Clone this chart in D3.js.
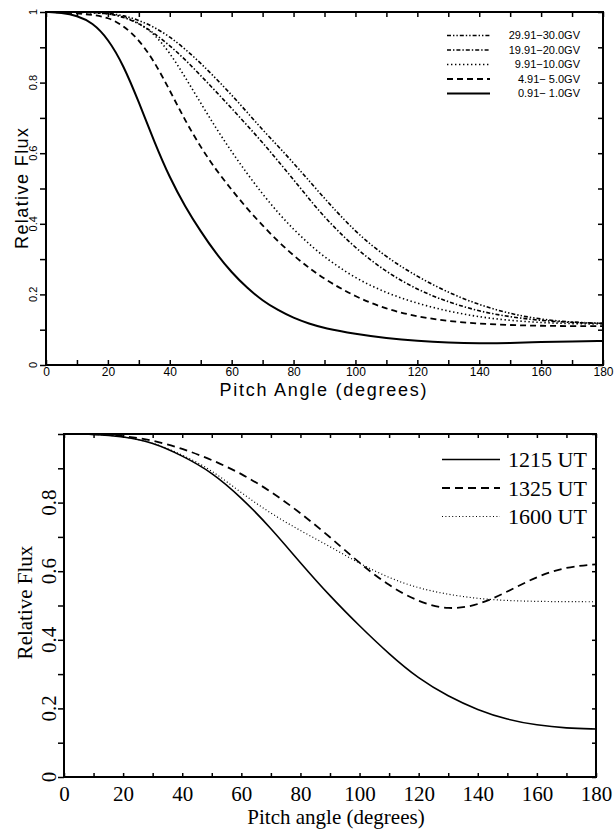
<!DOCTYPE html>
<html>
<head>
<meta charset="utf-8">
<script src="https://cdn.jsdelivr.net/npm/d3@7"></script>
<style>
  body { margin: 0; background: #fff; }
  svg { display: block; }
</style>
</head>
<body>
<svg id="chart" width="614" height="829"></svg>
<script>
// ---- top panel: five rigidity bands ----
const topAngles = [0, 5, 10, 15, 20, 25, 30, 35, 40, 45, 50, 55, 60, 65, 70, 75, 80, 85, 90, 100, 110, 120, 130, 140, 150, 160, 170, 180];
const flux30GV = [1, 1, 1, 0.999, 0.997, 0.99, 0.977, 0.957, 0.93, 0.895, 0.855, 0.811, 0.765, 0.716, 0.666, 0.62, 0.572, 0.522, 0.472, 0.376, 0.305, 0.25, 0.205, 0.17, 0.145, 0.129, 0.121, 0.118];
const flux20GV = [1, 1, 1, 0.999, 0.996, 0.986, 0.968, 0.94, 0.905, 0.865, 0.82, 0.774, 0.727, 0.679, 0.63, 0.578, 0.525, 0.471, 0.418, 0.33, 0.263, 0.213, 0.178, 0.152, 0.136, 0.126, 0.12, 0.118];
const flux10GV = [1, 1, 0.999, 0.998, 0.995, 0.988, 0.97, 0.938, 0.885, 0.815, 0.742, 0.67, 0.604, 0.542, 0.484, 0.431, 0.384, 0.343, 0.305, 0.245, 0.204, 0.174, 0.152, 0.136, 0.126, 0.12, 0.117, 0.116];
const flux5GV = [1, 0.999, 0.996, 0.992, 0.985, 0.962, 0.922, 0.86, 0.778, 0.692, 0.617, 0.552, 0.496, 0.443, 0.395, 0.35, 0.31, 0.275, 0.243, 0.193, 0.158, 0.137, 0.124, 0.117, 0.113, 0.111, 0.11, 0.11];
const flux1GV = [1, 0.998, 0.99, 0.97, 0.925, 0.85, 0.745, 0.632, 0.53, 0.448, 0.378, 0.315, 0.262, 0.218, 0.182, 0.155, 0.133, 0.117, 0.104, 0.088, 0.076, 0.068, 0.063, 0.061, 0.062, 0.065, 0.067, 0.068];
const topLabels = ["29.91\u221230.0GV", "19.91\u221220.0GV", "9.91\u221210.0GV", "4.91\u2212 5.0GV", "0.91\u2212 1.0GV"];

// ---- bottom panel: three times of day ----
const botAngles = [0, 10, 20, 30, 40, 50, 60, 70, 80, 90, 100, 110, 120, 130, 140, 150, 160, 170, 180];
const flux1215 = [1, 1, 0.993, 0.976, 0.937, 0.889, 0.815, 0.726, 0.624, 0.527, 0.44, 0.358, 0.286, 0.235, 0.195, 0.167, 0.151, 0.142, 0.14];
const flux1325 = [1, 1, 0.995, 0.982, 0.958, 0.925, 0.885, 0.833, 0.77, 0.7, 0.623, 0.557, 0.51, 0.487, 0.5, 0.54, 0.585, 0.613, 0.62];
const flux1600 = [1, 1, 0.993, 0.976, 0.94, 0.895, 0.828, 0.768, 0.718, 0.672, 0.622, 0.58, 0.55, 0.532, 0.52, 0.514, 0.512, 0.511, 0.511];
const botLabels = ["1215 UT", "1325 UT", "1600 UT"];

const svg = d3.select("#chart");
const SANS = "'Liberation Sans', Arial, sans-serif";
const SERIF = "'Liberation Serif', 'Times New Roman', serif";

function drawPanel(o) {
    const x = d3.scaleLinear().domain([0, 180]).range([o.left, o.right]);
    const y = d3.scaleLinear().domain([0, 1]).range([o.bottom, o.top]);
    const g = svg.append("g").style("font-family", o.font);

    const xTicks = d3.range(0, 181, 10);
    const yTicks = d3.range(0, 11).map(d => d / 10);

    const tidy = a => {
        a.select(".domain").remove();
        a.selectAll("line").attr("stroke-width", o.tickWidth);
    };

    g.append("g").attr("transform", `translate(0,${o.bottom})`)
        .call(d3.axisBottom(x).tickValues(xTicks).tickSize(-o.tickIn).tickFormat(d => d % 20 ? "" : d))
        .call(tidy)
        .call(a => a.selectAll("text")
            .attr("dy", null).attr("y", o.xTickY)
            .attr("fill", "#000")
            .style("font-size", o.xTickSize + "px")
            .style("font-family", o.font));

    g.append("g").attr("transform", `translate(0,${o.top})`)
        .call(d3.axisTop(x).tickValues(xTicks).tickSize(-o.tickIn).tickFormat(""))
        .call(tidy);

    g.append("g").attr("transform", `translate(${o.left},0)`)
        .call(d3.axisLeft(y).tickValues(yTicks).tickSize(o.tickOut).tickFormat(""))
        .call(tidy);

    g.append("g").attr("transform", `translate(${o.right},0)`)
        .call(d3.axisRight(y).tickValues(yTicks).tickSize(-o.tickIn).tickFormat(""))
        .call(tidy);

    // rotated y tick labels
    g.append("g").selectAll("text")
        .data(o.yLabels)
        .join("text")
        .attr("transform", d => `translate(${o.yTickX},${y(d)}) rotate(-90)`)
        .attr("text-anchor", "middle")
        .attr("dy", "0.35em")
        .style("font-size", o.yTickSize + "px")
        .text(d3.format("~g"));

    g.append("rect")
        .attr("x", o.left).attr("y", o.top)
        .attr("width", o.right - o.left).attr("height", o.bottom - o.top)
        .attr("fill", "none").attr("stroke", "#000").attr("stroke-width", o.frameWidth);

    // axis titles
    const xt = g.append("text")
        .attr("x", o.xTitleX).attr("y", o.xTitleY)
        .attr("text-anchor", "middle")
        .style("font-size", o.titleSize + "px")
        .text(o.xTitle);
    if (o.xTitleLen) xt.attr("textLength", o.xTitleLen).attr("lengthAdjust", "spacing");

    const yt = g.append("text")
        .attr("transform", `translate(${o.yTitleX},${(o.top + o.bottom) / 2 + o.yTitleShift}) rotate(-90)`)
        .attr("text-anchor", "middle")
        .style("font-size", o.titleSize + "px")
        .text("Relative Flux");
    if (o.yTitleLen) yt.attr("textLength", o.yTitleLen).attr("lengthAdjust", "spacing");

    const line = d3.line()
        .x(d => x(d[0]))
        .y(d => y(d[1]))
        .curve(d3.curveBasis);

    g.append("g").selectAll("path")
        .data(o.series)
        .join("path")
        .attr("d", s => line(d3.zip(o.angles, s.values)))
        .attr("fill", "none")
        .attr("stroke", "#000")
        .attr("stroke-width", s => s.width)
        .attr("stroke-dasharray", s => s.dash);

    // legend
    const leg = g.append("g").selectAll("g")
        .data(o.legend)
        .join("g")
        .attr("transform", (s, i) => `translate(0,${o.legY + i * o.legStep})`);
    leg.append("line")
        .attr("x1", o.legX1).attr("x2", o.legX2)
        .attr("stroke", "#000")
        .attr("stroke-width", s => s.width)
        .attr("stroke-dasharray", s => s.dash);
    leg.append("text")
        .attr("x", o.legTextX)
        .attr("dy", "0.35em")
        .attr("text-anchor", o.legAnchor)
        .style("font-size", o.legSize + "px")
        .style("white-space", "pre")
        .text(s => s.label);
}

const topSeries = [
    { label: topLabels[0], values: flux30GV, width: 1.6, dash: "4,2,1.4,2,1.4,2" },
    { label: topLabels[1], values: flux20GV, width: 1.6, dash: "4,2,1.4,2" },
    { label: topLabels[2], values: flux10GV, width: 1.6, dash: "1.4,2.6" },
    { label: topLabels[3], values: flux5GV, width: 1.8, dash: "6,4" },
    { label: topLabels[4], values: flux1GV, width: 2, dash: null }
];

drawPanel({
    left: 46, right: 603, top: 12, bottom: 365,
    font: SANS,
    angles: topAngles,
    series: topSeries,
    legend: topSeries,
    tickIn: 5, tickOut: 6, tickWidth: 1.5, frameWidth: 2,
    xTickY: 11, xTickSize: 12,
    yTickX: 33, yTickSize: 11,
    yLabels: [0, 0.2, 0.4, 0.6, 0.8, 1],
    titleSize: 18,
    xTitle: "Pitch Angle (degrees)", xTitleX: 323, xTitleY: 396, xTitleLen: 207,
    yTitleX: 28, yTitleShift: 0, yTitleLen: 121,
    legX1: 447, legX2: 490, legTextX: 580, legAnchor: "end",
    legY: 35.5, legStep: 14.5, legSize: 11
});

const botSeries = [
    { label: botLabels[0], values: flux1215, width: 1.6, dash: null },
    { label: botLabels[1], values: flux1325, width: 1.8, dash: "8,5" },
    { label: botLabels[2], values: flux1600, width: 1.2, dash: "1,2.4" }
];

drawPanel({
    left: 64, right: 596, top: 434, bottom: 777,
    font: SERIF,
    angles: botAngles,
    series: botSeries,
    legend: botSeries,
    tickIn: 4, tickOut: 6, tickWidth: 1.5, frameWidth: 2,
    xTickY: 24, xTickSize: 21,
    yTickX: 49, yTickSize: 21,
    yLabels: [0, 0.2, 0.4, 0.6, 0.8],
    titleSize: 21,
    xTitle: "Pitch angle (degrees)", xTitleX: 336, xTitleY: 824, xTitleLen: null,
    yTitleX: 32, yTitleShift: -3, yTitleLen: null,
    legX1: 442, legX2: 500, legTextX: 508, legAnchor: "start",
    legY: 459.5, legStep: 28.5, legSize: 22
});
</script>
</body>
</html>
